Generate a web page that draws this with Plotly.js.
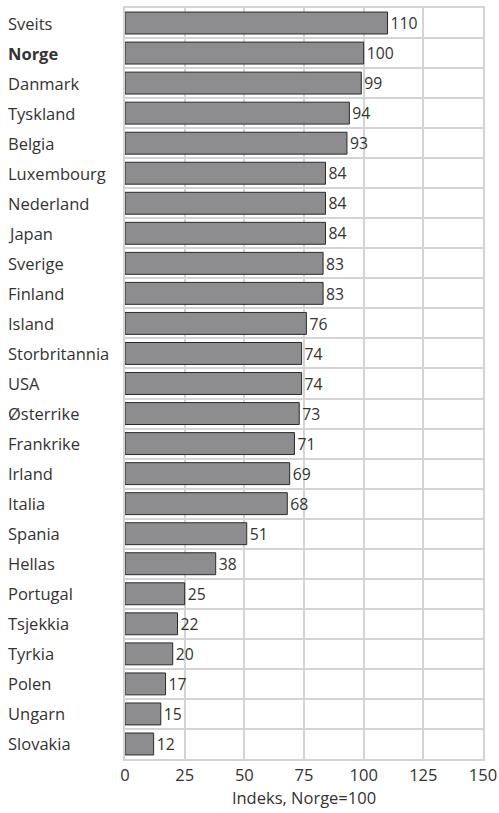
<!DOCTYPE html>
<html><head><meta charset="utf-8">
<script src="https://cdn.plot.ly/plotly-3.0.1.min.js"></script>
<style>html,body{margin:0;padding:0;background:#fff}#chart{width:499px;height:813px}</style>
</head><body><div id="chart"></div>
<script>
const countries = ["Sveits","Norge","Danmark","Tyskland","Belgia","Luxembourg","Nederland","Japan","Sverige","Finland","Island","Storbritannia","USA","Østerrike","Frankrike","Irland","Italia","Spania","Hellas","Portugal","Tsjekkia","Tyrkia","Polen","Ungarn","Slovakia"];
const values = [110,100,99,94,93,84,84,84,83,83,76,74,74,73,71,69,68,51,38,25,22,20,17,15,12];
const xTicks = [0,25,50,75,100,125,150];
const font = "Open Sans, Noto Sans, sans-serif";
const fs = 16.5;

const trace = {
  type: "bar", orientation: "h",
  x: values, y: countries,
  marker: {color: "#8d8d90", line: {color: "#2a2a2a", width: 1}},
  text: values.map(String), textposition: "outside", cliponaxis: false,
  textfont: {family: font, size: fs, color: "#333"},
  hoverinfo: "skip"
};

const annotations = countries.map(c => ({
  xref: "paper", yref: "y", x: -0.333, y: c, xanchor: "left", yanchor: "middle",
  text: c === "Norge" ? "<b>" + c + "</b>" : c, showarrow: false,
  font: {family: font, size: fs, color: "#333"}
}));

const layout = {
  width: 499, height: 813,
  margin: {l: 125, r: 16, t: 8, b: 54},
  paper_bgcolor: "#fff", plot_bgcolor: "#fff",
  bargap: 0.27, showlegend: false,
  font: {family: font, size: fs, color: "#333"},
  xaxis: {
    range: [0, 150], tickvals: xTicks, ticktext: xTicks.map(String),
    showgrid: true, gridcolor: "#d4d4d4", gridwidth: 2, zeroline: false,
    showline: true, linecolor: "#d4d4d4", linewidth: 2, mirror: true,
    ticks: "", ticklen: 0, tickfont: {family: font, size: fs, color: "#333"},
    title: {text: "Indeks, Norge=100", font: {family: font, size: fs, color: "#333"}, standoff: 4}
  },
  yaxis: {
    type: "category", categoryorder: "array", categoryarray: countries,
    autorange: "reversed", tickson: "boundaries",
    showgrid: true, gridcolor: "#d4d4d4", gridwidth: 2,
    showline: true, linecolor: "#d4d4d4", linewidth: 2, mirror: true,
    showticklabels: false, ticks: ""
  },
  annotations: annotations
};

Plotly.newPlot("chart", [trace], layout, {displayModeBar: false, staticPlot: true});
</script></body></html>
